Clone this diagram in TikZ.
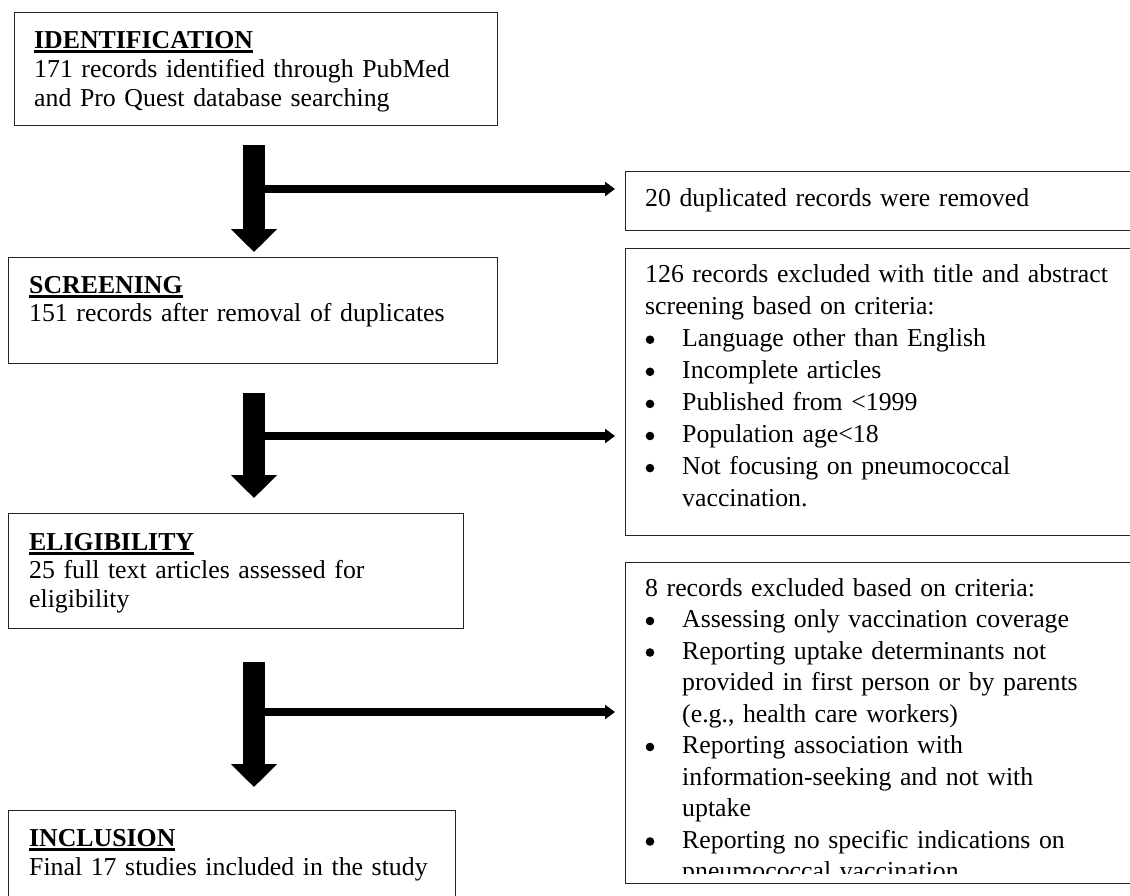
\documentclass[tikz,border=0pt]{standalone}
\usepackage{fontspec}
\setmainfont{Liberation Serif}
\usetikzlibrary{arrows.meta}
\newcommand\ulhead[1]{\setbox0\hbox{\bfseries #1}\rlap{\rule[-4.6pt]{\wd0}{2.2pt}}\box0}
\newcommand\bul{\tikz[baseline={(0pt,-6.5pt)}]\fill[black] (0pt,0pt) circle (4.3pt);}
\newcommand\bitem[1]{\par\noindent\hangindent=37pt\hangafter=1\makebox[37pt][l]{\hspace{0.5pt}\bul}#1}
\tikzset{
  box/.style={draw=black!85, line width=1.3pt, rectangle, inner sep=0pt, anchor=north west},
  txt/.style={anchor=base west, inner sep=0pt, text width=#1, align=left,
    font=\fontsize{25.8}{29}\selectfont},
  bigarrow/.style={line width=22pt, -{Triangle[length=23pt,width=45pt]}},
  sidearrow/.style={line width=8.5pt, -{Triangle[length=10pt,width=14pt]}},
}
\begin{document}
\begin{tikzpicture}[x=1pt,y=-1pt]
\useasboundingbox (0,0) rectangle (1130,895);
% left boxes
\node[box, minimum width=483pt, minimum height=113pt] (ident) at (14,12) {};
\node[box, minimum width=489pt, minimum height=106pt] (screen) at (8,257) {};
\node[box, minimum width=455pt, minimum height=115pt] (elig) at (8,513) {};
\node[box, minimum width=447pt, minimum height=100pt] (incl) at (8,810) {};
% right boxes
\node[box, minimum width=520pt, minimum height=59pt] (dup) at (625,171) {};
\node[box, minimum width=520pt, minimum height=287pt] (excl1) at (625,248) {};
\node[box, minimum width=520pt, minimum height=321pt] (excl2) at (625,562) {};
% texts
\node[txt=460pt] (identT) at (34,48) {\ulhead{IDENTIFICATION}\\171 records identified through PubMed\\and Pro Quest database searching\par};
\node[txt=460pt, font=\fontsize{25.8}{28}\selectfont] (screenT) at (29,293) {\ulhead{SCREENING}\\151 records after removal of duplicates\par};
\node[txt=440pt, font=\fontsize{25.8}{28.5}\selectfont] (eligT) at (29,550) {\ulhead{ELIGIBILITY}\\25 full text articles assessed for\\eligibility\par};
\node[txt=440pt] (inclT) at (29,846) {\ulhead{INCLUSION}\\Final 17 studies included in the study\par};
\node[txt=480pt] (dupT) at (645,206) {20 duplicated records were removed\par};
\node[txt=480pt, font=\fontsize{25.8}{32.1}\selectfont] (excl1T) at (645,282) {126 records excluded with title and abstract\\screening based on criteria:
\bitem{Language other than English}
\bitem{Incomplete articles}
\bitem{Published from <1999}
\bitem{Population age<18}
\bitem{Not focusing on pneumococcal\newline vaccination.}\par};
\begin{scope}
\clip (600,550) rectangle (1130,873);
\node[txt=480pt, font=\fontsize{25.8}{31.5}\selectfont] (excl2T) at (645,596) {8 records excluded based on criteria:
\bitem{Assessing only vaccination coverage}
\bitem{Reporting uptake determinants not\newline provided in first person or by parents\newline (e.g., health care workers)}
\bitem{Reporting association with\newline information-seeking and not with\newline uptake}
\bitem{Reporting no specific indications on\newline pneumococcal vaccination.}\par};
\end{scope}
% connectors
\coordinate (a1s) at (254,145); \coordinate (a1e) at (254,252);
\coordinate (a2s) at (254,393); \coordinate (a2e) at (254,498);
\coordinate (a3s) at (254,662); \coordinate (a3e) at (254,787);
\coordinate (h1s) at (254,189); \coordinate (h1e) at (615,189);
\coordinate (h2s) at (254,436); \coordinate (h2e) at (615,436);
\coordinate (h3s) at (254,712); \coordinate (h3e) at (615,712);
\draw[sidearrow] (h1s) -- (h1e);
\draw[sidearrow] (h2s) -- (h2e);
\draw[sidearrow] (h3s) -- (h3e);
\draw[bigarrow] (a1s) -- (a1e);
\draw[bigarrow] (a2s) -- (a2e);
\draw[bigarrow] (a3s) -- (a3e);
\end{tikzpicture}
\end{document}
